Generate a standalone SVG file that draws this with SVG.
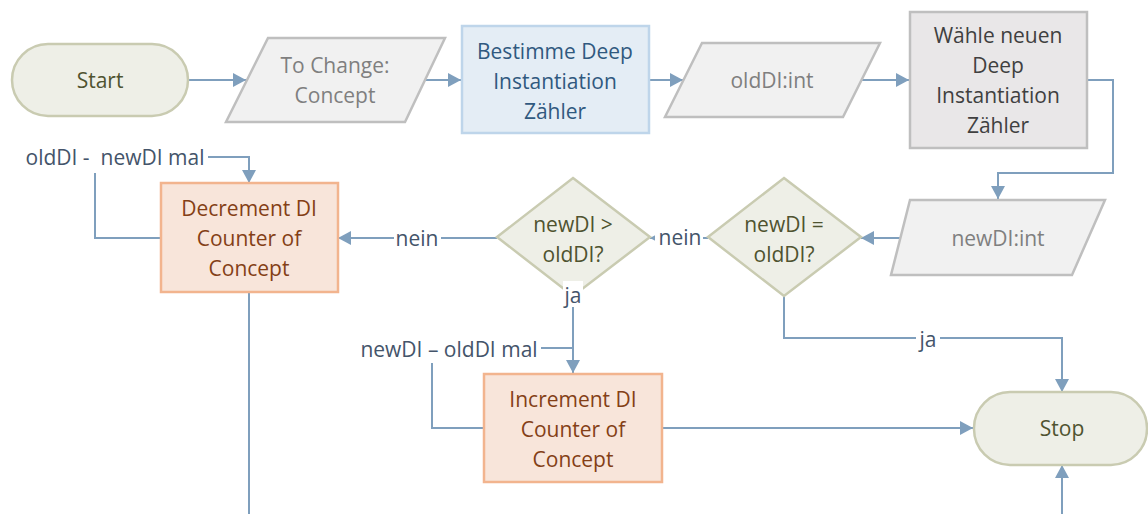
<svg xmlns="http://www.w3.org/2000/svg" width="1148" height="514" viewBox="0 0 1148 514">
  <style>
    text { font-family: "Open Sans", "Noto Sans", "Liberation Sans", sans-serif; font-size: 21px; text-anchor: middle; }
    .term { fill: #EEEFE7; stroke: #C9CBB1; stroke-width: 2.5; }
    .term-t { fill: #4F5330; }
    .data { fill: #F1F1F1; stroke: #BFBFBF; stroke-width: 2.5; }
    .data-t { fill: #7F7F7F; }
    .calc { fill: #E4EDF5; stroke: #BED5EA; stroke-width: 2.5; }
    .calc-t { fill: #30597F; }
    .manual { fill: #E9E7E8; stroke: #BFBFBF; stroke-width: 2.5; }
    .manual-t { fill: #404040; }
    .dec { fill: #EEEFE7; stroke: #C9CBB1; stroke-width: 2.5; }
    .dec-t { fill: #4F5330; }
    .act { fill: #F8E5DA; stroke: #F2B48E; stroke-width: 2.5; }
    .act-t { fill: #843F16; }
    .edge { fill: none; stroke: #7F9FBD; stroke-width: 2; }
    .lbl { fill: #44546A; }
    .lbl-bg { fill: #FFFFFF; }
  </style>
  <defs>
    <marker id="arrow" markerUnits="userSpaceOnUse" markerWidth="14" markerHeight="14" refX="13" refY="7" orient="auto">
      <path d="M0,0 L13,7 L0,14 z" fill="#7F9FBD"/>
    </marker>
  </defs>

  <rect width="1148" height="514" fill="#FFFFFF"/>

  <!-- connectors -->
  <g id="connectors">
    <path class="edge" d="M188,80 H246" marker-end="url(#arrow)"/>
    <path class="edge" d="M423,80 H461" marker-end="url(#arrow)"/>
    <path class="edge" d="M649,80 H683" marker-end="url(#arrow)"/>
    <path class="edge" d="M861,80 H909" marker-end="url(#arrow)"/>
    <path class="edge" d="M1087,80 H1113 V173 H998 V199" marker-end="url(#arrow)"/>
    <path class="edge" d="M900,238 H861" marker-end="url(#arrow)"/>
    <path class="edge" d="M708,238 H650" marker-end="url(#arrow)"/>
    <path class="edge" d="M497,238 H338" marker-end="url(#arrow)"/>
    <path class="edge" d="M573,296 V373" marker-end="url(#arrow)"/>
    <path class="edge" d="M784,296 V338 H1062 V392" marker-end="url(#arrow)"/>
    <path class="edge" d="M662,428 H973" marker-end="url(#arrow)"/>
    <path class="edge" d="M1062,514 V465" marker-end="url(#arrow)"/>
    <path class="edge" d="M249,292 V514"/>
    <!-- repetition loops -->
    <path class="edge" d="M161,238 H95 V173"/>
    <path class="edge" d="M208,157 H249 V183" marker-end="url(#arrow)"/>
    <path class="edge" d="M484,428 H432 V363"/>
    <path class="edge" d="M541,348 H573"/>
    <!-- edge labels -->
    <rect class="lbl-bg" x="655" y="226" width="48" height="24"/>
    <text class="lbl" x="680" y="245">nein</text>
    <rect class="lbl-bg" x="394" y="226" width="47" height="24"/>
    <text class="lbl" x="417" y="246">nein</text>
    <rect class="lbl-bg" x="916" y="328" width="24" height="24"/>
    <text class="lbl" x="928" y="347">ja</text>
    <text class="lbl" x="115" y="165" style="white-space: pre">oldDI -  newDI mal</text>
    <text class="lbl" x="449" y="357">newDI – oldDI mal</text>
  </g>

  <g id="start">
    <rect class="term" x="12" y="44" width="176" height="72" rx="36"/>
    <text class="term-t" x="100" y="88">Start</text>
  </g>

  <g id="toChange">
    <polygon class="data" points="268,38 445,38 405,122 226,122"/>
    <text class="data-t" x="335" y="73">To Change:</text>
    <text class="data-t" x="335" y="103">Concept</text>
  </g>

  <g id="bestimme">
    <rect class="calc" x="462" y="26" width="187" height="107"/>
    <text class="calc-t" x="555" y="59">Bestimme Deep</text>
    <text class="calc-t" x="555" y="89">Instantiation</text>
    <text class="calc-t" x="555" y="119">Zähler</text>
  </g>

  <g id="oldDI">
    <polygon class="data" points="702,43 880,43 843,117 665,117"/>
    <text class="data-t" x="772" y="88">oldDI:int</text>
  </g>

  <g id="waehle">
    <rect class="manual" x="910" y="12" width="177" height="136"/>
    <text class="manual-t" x="998" y="43">Wähle neuen</text>
    <text class="manual-t" x="998" y="73">Deep</text>
    <text class="manual-t" x="998" y="103">Instantiation</text>
    <text class="manual-t" x="998" y="133">Zähler</text>
  </g>

  <g id="newDI">
    <polygon class="data" points="910,200 1105,200 1072,275 891,275"/>
    <text class="data-t" x="998" y="246">newDI:int</text>
  </g>

  <g id="equalCheck">
    <polygon class="dec" points="784,178 861,237 784,296 708,237"/>
    <text class="dec-t" x="784" y="232">newDI =</text>
    <text class="dec-t" x="784" y="262">oldDI?</text>
  </g>

  <g id="greaterCheck">
    <polygon class="dec" points="573,178 650,237 573,296 497,237"/>
    <text class="dec-t" x="573" y="232">newDI &gt;</text>
    <text class="dec-t" x="573" y="262">oldDI?</text>
    <rect class="lbl-bg" x="563" y="281" width="20" height="26"/>
    <text class="lbl" x="573" y="303">ja</text>
  </g>

  <g id="decrement">
    <rect class="act" x="161" y="183" width="177" height="109"/>
    <text class="act-t" x="249" y="216">Decrement DI</text>
    <text class="act-t" x="249" y="246">Counter of</text>
    <text class="act-t" x="249" y="276">Concept</text>
  </g>

  <g id="increment">
    <rect class="act" x="484" y="374" width="178" height="108"/>
    <text class="act-t" x="573" y="407">Increment DI</text>
    <text class="act-t" x="573" y="437">Counter of</text>
    <text class="act-t" x="573" y="467">Concept</text>
  </g>

  <g id="stop">
    <rect class="term" x="974" y="392" width="173" height="73" rx="36"/>
    <text class="term-t" x="1062" y="436">Stop</text>
  </g>
</svg>
